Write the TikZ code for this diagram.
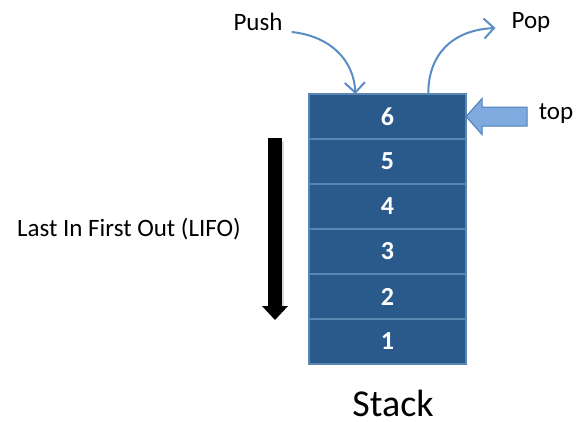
\documentclass[tikz,border=0pt]{standalone}
\usepackage{fontspec}
\setmainfont{Carlito}
\usetikzlibrary{arrows.meta,calc}
\definecolor{cellblue}{HTML}{2A5A8C}
\definecolor{celledge}{HTML}{5A86B4}
\definecolor{curveblue}{HTML}{5B8CC4}
\definecolor{topfill}{HTML}{7EAADF}
\definecolor{topedge}{HTML}{4F7FB8}
\tikzset{
  cell/.style={draw=celledge, line width=1.2pt, fill=cellblue, minimum width=157pt, minimum height=45pt, inner sep=0pt, outer sep=0pt, text=white, font=\fontsize{26}{28}\selectfont\bfseries},
  lbl/.style={inner sep=0pt, font=\fontsize{25}{28}\selectfont},
  curvearrow/.style={draw=curveblue, line width=2pt, -{Straight Barb[length=10pt, width=20pt, line width=2pt]}}
}
\begin{document}
\begin{tikzpicture}[x=1pt, y=-1pt]
\useasboundingbox (0,0) rectangle (576,421);
% stack cells
\node[cell] (c1) at (387.5,341.5) {1};
\node[cell, anchor=south] (c2) at (c1.north) {2};
\node[cell, anchor=south] (c3) at (c2.north) {3};
\node[cell, anchor=south] (c4) at (c3.north) {4};
\node[cell, anchor=south] (c5) at (c4.north) {5};
\node[cell, anchor=south] (c6) at (c5.north) {6};
% labels
\node[lbl] (push) at (258,22) {Push};
\node[lbl] (pop) at (531,22) {Pop};
\node[lbl] (top) at (556,114) {top};
\node[lbl] (lifo) at (129,229) {Last In First Out (LIFO)};
\node[inner sep=0pt, font=\fontsize{38}{42}\selectfont] (stack) at (393,403) {Stack};
% push / pop curves
\coordinate (pushin) at ($(c6.north west)!0.295!(c6.north east)$);
\coordinate (popout) at ($(c6.north west)!0.76!(c6.north east)$);
\draw[curvearrow] ($(push.east)+(9,10)$) .. controls (330,36) and (354,60) .. (pushin);
\draw[curvearrow] (popout) .. controls (428,55) and (452,30) .. ($(pop.west)+(-16,6)$);
% top arrow
\coordinate (tiptop) at (c6.east);
\filldraw[fill=topfill, draw=topedge, line width=1pt]
  (tiptop) -- ++(16,-18) -- ++(0,8.5) -- ($(tiptop)+(61,-9.5)$) -- ($(tiptop)+(61,9.5)$)
  -- ($(tiptop)+(16,9.5)$) -- ++(0,8.5) -- cycle;
% LIFO arrow
\coordinate (lifotop) at (275,138);
\coordinate (lifotip) at (275,320);
\fill[black!15] (270,141) rectangle (284,309);
\fill (lifotop) ++(-7,0) rectangle (282,307);
\fill (lifotip) -- (262,306) -- (288,306) -- cycle;
\end{tikzpicture}
\end{document}
